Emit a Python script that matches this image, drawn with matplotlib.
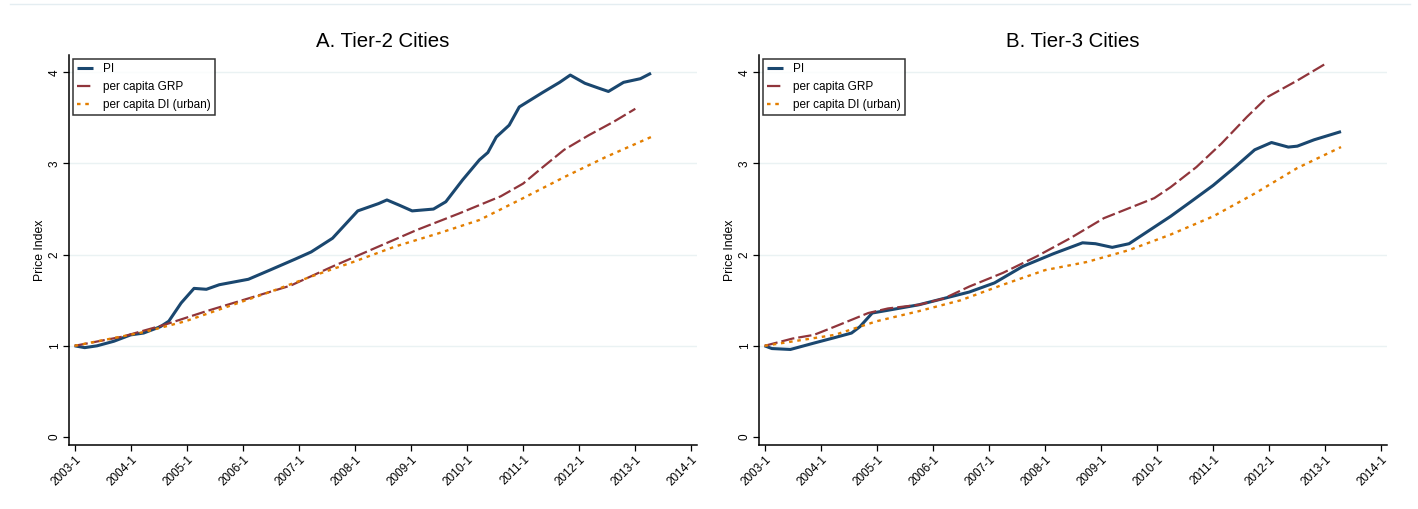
import matplotlib
matplotlib.use("Agg")
import matplotlib.pyplot as plt
from matplotlib.lines import Line2D

plt.rcParams["font.family"] = ["Liberation Sans", "DejaVu Sans"]

# x positions are in years (2003.0 = 2003-1)
t2_pi_x = [2003.0, 2003.18, 2003.4, 2003.7, 2004.0, 2004.23, 2004.53, 2004.68, 2004.9,
           2005.13, 2005.35, 2005.58, 2006.1, 2006.48, 2006.93, 2007.22, 2007.6, 2008.05,
           2008.42, 2008.57, 2008.8, 2009.02, 2009.4, 2009.62, 2009.92, 2010.22, 2010.37,
           2010.52, 2010.75, 2010.93, 2011.35, 2011.65, 2011.84, 2012.1, 2012.33, 2012.52,
           2012.79, 2013.09, 2013.28]
t2_pi_y = [1.0, 0.98, 1.0, 1.05, 1.12, 1.14, 1.21, 1.27, 1.47,
           1.63, 1.62, 1.67, 1.73, 1.83, 1.95, 2.03, 2.18, 2.48,
           2.56, 2.60, 2.54, 2.48, 2.50, 2.58, 2.82, 3.04, 3.12,
           3.29, 3.42, 3.62, 3.78, 3.89, 3.97, 3.88, 3.83, 3.79,
           3.89, 3.93, 3.99]
t2_grp_x = [2003.0, 2003.85, 2004.6, 2005.35, 2006.1, 2006.85, 2007.6, 2008.35, 2009.1,
            2009.85, 2010.6, 2011.0, 2011.35, 2011.73, 2012.17, 2012.62, 2013.0]
t2_grp_y = [1.0, 1.10, 1.23, 1.38, 1.52, 1.66, 1.87, 2.07, 2.27,
            2.45, 2.64, 2.78, 2.96, 3.15, 3.31, 3.46, 3.60]
t2_di_x = [2003.0, 2004.23, 2004.98, 2005.73, 2006.48, 2007.22, 2007.97, 2008.72, 2009.47,
           2010.22, 2011.0, 2011.73, 2012.47, 2013.28]
t2_di_y = [1.0, 1.15, 1.27, 1.43, 1.59, 1.76, 1.92, 2.09, 2.23,
           2.38, 2.62, 2.85, 3.07, 3.29]

t3_pi_x = [2003.0, 2003.13, 2003.46, 2003.88, 2004.25, 2004.55, 2004.7, 2004.92, 2005.2,
           2005.75, 2006.2, 2006.65, 2007.1, 2007.6, 2008.15, 2008.67, 2008.9, 2009.2,
           2009.5, 2009.87, 2010.24, 2010.6, 2011.0, 2011.37, 2011.74, 2012.04, 2012.34,
           2012.5, 2012.8, 2013.28]
t3_pi_y = [1.0, 0.97, 0.96, 1.03, 1.09, 1.14, 1.21, 1.36, 1.39,
           1.45, 1.52, 1.59, 1.69, 1.87, 2.01, 2.13, 2.12, 2.08,
           2.12, 2.27, 2.42, 2.58, 2.76, 2.95, 3.15, 3.23, 3.18,
           3.19, 3.26, 3.35]
t3_grp_x = [2003.0, 2003.5, 2003.88, 2004.25, 2004.85, 2005.2, 2005.75, 2006.2, 2006.65,
            2007.25, 2007.85, 2008.45, 2009.05, 2009.5, 2009.95, 2010.24, 2010.7, 2011.15,
            2011.6, 2011.97, 2012.5, 2013.02]
t3_grp_y = [1.0, 1.08, 1.12, 1.21, 1.36, 1.41, 1.45, 1.52, 1.65,
            1.80, 1.98, 2.18, 2.40, 2.51, 2.62, 2.74, 2.96, 3.22,
            3.51, 3.73, 3.91, 4.10]
t3_di_x = [2003.0, 2004.25, 2005.0, 2005.75, 2006.5, 2007.25, 2008.0, 2008.75, 2009.5,
           2010.24, 2011.0, 2011.74, 2012.5, 2013.28]
t3_di_y = [1.0, 1.12, 1.27, 1.38, 1.50, 1.67, 1.83, 1.92, 2.05,
           2.22, 2.42, 2.67, 2.95, 3.18]

year_ticks = list(range(2003, 2015))
year_labels = [f"{y}-1" for y in year_ticks]
series_names = ["PI", "per capita GRP", "per capita DI (urban)"]

navy = "#1a476f"
maroon = "#90353b"
orange = "#e37e00"
grid_col = "#eaf2f3"

W, H = 1418, 509
fig = plt.figure(figsize=(W / 100, H / 100), dpi=100)
fig.add_artist(Line2D([10 / W, 1410 / W], [1 - 4 / H, 1 - 4 / H],
                      color="#e4edf1", lw=1.0))


def panel(left_px, title, pi, grp, di):
    ax = fig.add_axes([left_px / W, 1 - 445 / H, 628 / W, 390 / H])
    ax.plot(pi[0], pi[1], color=navy, lw=2.2, solid_capstyle="butt",
            label=series_names[0])
    ax.plot(grp[0], grp[1], color=maroon, lw=1.6, dashes=(6, 1.8),
            label=series_names[1])
    ax.plot(di[0], di[1], color=orange, lw=1.7, dashes=(1.5, 2.0),
            label=series_names[2])
    ax.set_xlim(2002.9, 2014.1)
    ax.set_ylim(-0.088, 4.19)
    ax.set_xticks(year_ticks)
    ax.set_xticklabels(year_labels, rotation=45, ha="right",
                       rotation_mode="anchor", fontsize=8.5)
    ax.set_yticks([0, 1, 2, 3, 4])
    ax.set_yticklabels(["0", "1", "2", "3", "4"], rotation=90,
                       va="center", fontsize=8.5)
    ax.tick_params(length=4, width=0.9, pad=2, color="black")
    for y in [1, 2, 3, 4]:
        ax.axhline(y, color=grid_col, lw=1.0, zorder=0)
    ax.spines["top"].set_visible(False)
    ax.spines["right"].set_visible(False)
    ax.spines["left"].set_linewidth(1.1)
    ax.spines["bottom"].set_linewidth(1.1)
    ax.set_ylabel("Price Index", fontsize=8.8)
    ax.yaxis.set_label_coords(-0.036, 0.5)
    ax.set_title(title, fontsize=14.7, pad=5.8)
    leg = ax.legend(loc="upper left", bbox_to_anchor=(0.006, 0.99),
                    fontsize=8.5, frameon=True, fancybox=False,
                    handlelength=1.36, handletextpad=0.85, borderpad=0.35,
                    labelspacing=0.5, borderaxespad=0)
    leg.get_frame().set_edgecolor("black")
    leg.get_frame().set_linewidth(1.1)
    return ax


panel(69, "A. Tier-2 Cities", (t2_pi_x, t2_pi_y), (t2_grp_x, t2_grp_y),
      (t2_di_x, t2_di_y))
panel(759, "B. Tier-3 Cities", (t3_pi_x, t3_pi_y), (t3_grp_x, t3_grp_y),
      (t3_di_x, t3_di_y))

fig.savefig("out.png", dpi=100)
